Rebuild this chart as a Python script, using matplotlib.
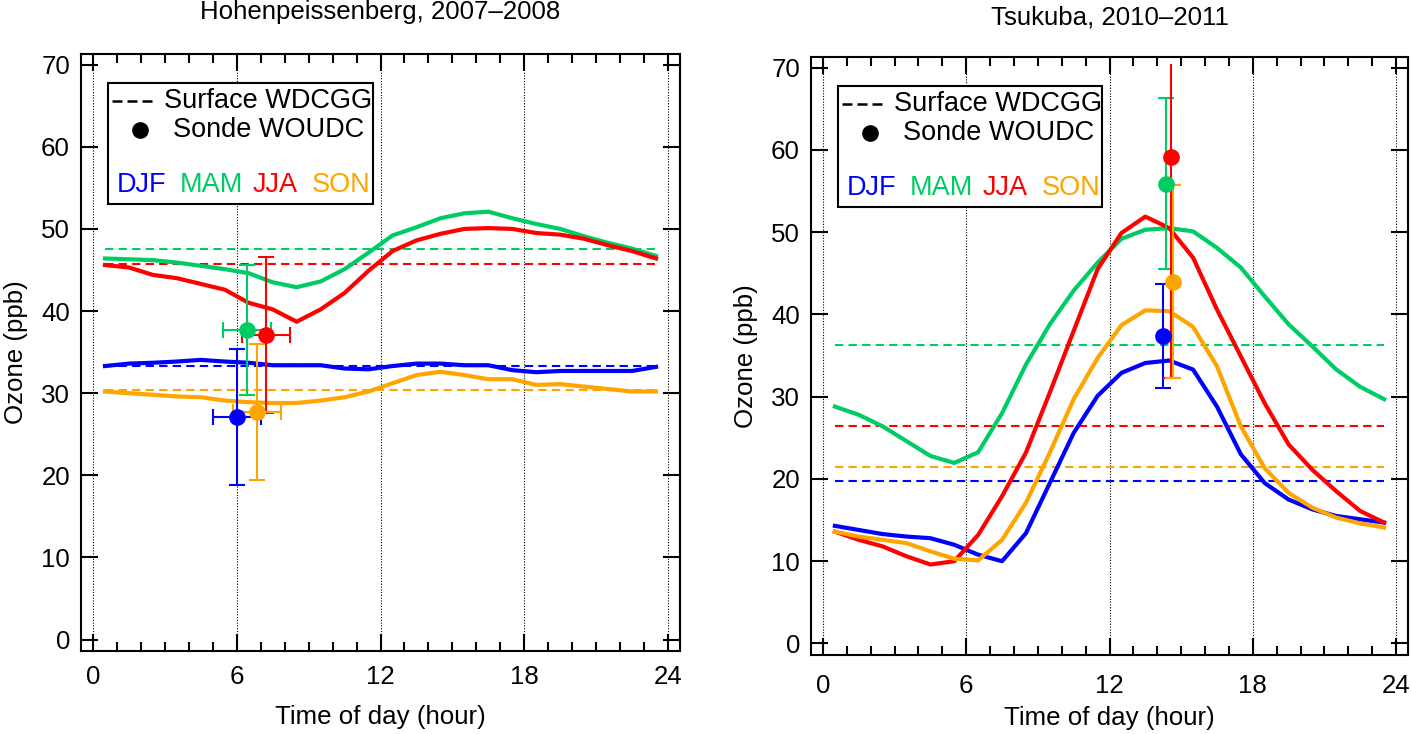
import numpy as np
import matplotlib
matplotlib.use("Agg")
import matplotlib.pyplot as plt
from matplotlib.patches import Rectangle
from matplotlib.ticker import MultipleLocator

plt.rcParams['font.family'] = ['Liberation Sans', 'DejaVu Sans']
plt.rcParams['font.size'] = 18.6

# hourly means, plotted at the middle of each hour
hours = np.arange(0.5, 24.0, 1.0)
seasons = ['DJF', 'MAM', 'JJA', 'SON']
season_colors = ['#0000ff', '#00cc66', '#ff0000', '#ffa500']

# Hohenpeissenberg, 2007-2008
hp_djf = [33.3, 33.6, 33.7, 33.85, 34.05, 33.85, 33.7, 33.4, 33.4, 33.4, 33.0, 32.9,
          33.3, 33.6, 33.6, 33.4, 33.4, 32.8, 32.55, 32.7, 32.7, 32.7, 32.7, 33.2]
hp_mam = [46.4, 46.3, 46.2, 45.9, 45.5, 45.1, 44.6, 43.5, 42.9, 43.6, 45.1, 47.1,
          49.2, 50.2, 51.3, 51.9, 52.1, 51.3, 50.6, 50.0, 49.1, 48.3, 47.6, 46.7]
hp_jja = [45.6, 45.3, 44.4, 44.0, 43.3, 42.6, 41.0, 40.2, 38.7, 40.2, 42.2, 44.9,
          47.3, 48.6, 49.4, 50.0, 50.1, 50.0, 49.5, 49.3, 48.8, 48.0, 47.3, 46.4]
hp_son = [30.2, 30.0, 29.8, 29.6, 29.5, 29.1, 28.9, 28.8, 28.8, 29.1, 29.5, 30.2,
          31.2, 32.2, 32.6, 32.2, 31.7, 31.7, 31.0, 31.1, 30.8, 30.5, 30.2, 30.2]
hp_surface = [33.3, 47.5, 45.7, 30.4]
hp_sonde_hour = [6.02, 6.41, 7.21, 6.83]
hp_sonde_hour_err = [1.0, 1.0, 1.0, 1.0]
hp_sonde_o3 = [27.1, 37.7, 37.1, 27.7]
hp_sonde_err = [8.3, 7.9, 9.5, 8.3]

# Tsukuba, 2010-2011
tk_djf = [14.3, 13.8, 13.3, 13.0, 12.8, 12.0, 10.8, 10.0, 13.4, 19.5, 25.6, 30.1,
          32.9, 34.1, 34.4, 33.3, 28.8, 23.0, 19.5, 17.5, 16.3, 15.5, 15.1, 14.7]
tk_mam = [28.8, 27.8, 26.4, 24.6, 22.8, 21.95, 23.25, 28.0, 33.9, 38.8, 42.9, 46.3,
          49.2, 50.3, 50.5, 50.1, 48.1, 45.7, 42.2, 38.8, 36.1, 33.3, 31.2, 29.7]
tk_jja = [13.6, 12.6, 11.8, 10.6, 9.6, 10.0, 13.2, 17.9, 23.2, 30.5, 38.0, 45.5,
          49.9, 51.9, 50.5, 46.9, 40.6, 34.9, 29.2, 24.2, 21.1, 18.5, 16.1, 14.7]
tk_son = [13.6, 13.0, 12.6, 12.2, 11.2, 10.3, 10.1, 12.6, 17.1, 23.2, 29.7, 34.7,
          38.7, 40.5, 40.4, 38.5, 33.7, 26.4, 21.3, 18.3, 16.5, 15.3, 14.6, 14.1]
tk_surface = [19.7, 36.3, 26.4, 21.5]
tk_sonde_hour = [14.26, 14.38, 14.57, 14.67]
tk_sonde_o3 = [37.4, 55.9, 59.2, 44.0]
tk_sonde_err = [6.3, 10.4, 26.9, 11.7]

DASH = (0, (4, 2.5))


def draw_key(ax):
    """Legend box drawn by hand (season names are coloured words)"""
    ax.add_patch(Rectangle((0.045, 0.749), 0.442, 0.202, transform=ax.transAxes,
                           facecolor='white', edgecolor='black', lw=1.5, zorder=6))
    ax.plot([0.052, 0.120], [0.921, 0.921], transform=ax.transAxes, color='black',
            ls=(0, (4, 2)), lw=1.8, zorder=7)
    ax.text(0.139, 0.921, 'Surface WDCGG', transform=ax.transAxes, va='center',
            fontsize=19.5, zorder=7)
    ax.plot([0.0985], [0.873], 'o', ms=11, color='black', transform=ax.transAxes, zorder=7)
    ax.text(0.154, 0.873, 'Sonde WOUDC', transform=ax.transAxes, va='center',
            fontsize=19.5, zorder=7)
    for name, color, x in zip(seasons, season_colors, [0.060, 0.165, 0.287, 0.386]):
        ax.text(x, 0.781, name, color=color, transform=ax.transAxes, va='center',
                fontsize=19.5, zorder=7)


def draw_panel(ax, lines, surface, sonde_hour, sonde_o3, sonde_err, sonde_hour_err=None):
    for mean, color in zip(surface, season_colors):
        ax.plot(hours, np.full(len(hours), mean), ls=DASH, lw=1.5, color=color)
    for vals, color in zip(lines, season_colors):
        ax.plot(hours, vals, lw=3, color=color)

    # sonde profiles were cut off at 70.5 ppb in the original
    for i, color in enumerate(season_colors):
        xerr = None if sonde_hour_err is None else sonde_hour_err[i]
        eb = ax.errorbar(sonde_hour[i], sonde_o3[i], yerr=sonde_err[i], xerr=xerr,
                         fmt='o', ms=11, color=color, elinewidth=1.5,
                         capsize=6, capthick=1.5, zorder=4)
        clip = Rectangle((-1, -2), 26, 72.5, transform=ax.transData)
        for artist in eb.get_children():
            artist.set_clip_path(clip)

    ax.set_xlim(-0.5, 24.5)
    ax.set_ylim(-1.4, 71.3)
    ax.set_xticks([0, 6, 12, 18, 24])
    ax.xaxis.set_minor_locator(MultipleLocator(1))
    ax.set_yticks(range(0, 71, 10))
    ax.grid(axis='x', which='major', ls=(0, (1, 1.5)), color='black', lw=0.8)
    ax.tick_params(which='both', direction='in', top=True, right=True, width=1.5)
    ax.tick_params(which='major', length=12)
    ax.tick_params(which='minor', length=6.5)
    ax.tick_params(axis='x', pad=10)
    ax.tick_params(axis='y', pad=8)
    for sp in ax.spines.values():
        sp.set_linewidth(1.5)

    ax.set_xlabel('Time of day (hour)')
    ax.set_ylabel('Ozone (ppb)')
    ax.yaxis.set_label_coords(-0.089, 0.5)
    draw_key(ax)


fig = plt.figure(figsize=(14.11, 7.34), dpi=100)
ax1 = fig.add_axes([81 / 1411, 1 - 651 / 734, 599 / 1411, 597 / 734])
ax2 = fig.add_axes([811 / 1411, 1 - 655 / 734, 597 / 1411, 598 / 734])

draw_panel(ax1, [hp_djf, hp_mam, hp_jja, hp_son], hp_surface,
           hp_sonde_hour, hp_sonde_o3, hp_sonde_err, hp_sonde_hour_err)
draw_panel(ax2, [tk_djf, tk_mam, tk_jja, tk_son], tk_surface,
           tk_sonde_hour, tk_sonde_o3, tk_sonde_err)
ax2.tick_params(axis='x', pad=14)

ax1.xaxis.set_label_coords(0.5, -0.0905)
ax2.xaxis.set_label_coords(0.5, -0.085)

fig.text(380 / 1411, 1 - 12 / 734, 'Hohenpeissenberg, 2007\u20132008', ha='center', va='center')
fig.text(1110 / 1411, 1 - 18 / 734, 'Tsukuba, 2010\u20132011', ha='center', va='center')

fig.savefig('out.png', dpi=100)
